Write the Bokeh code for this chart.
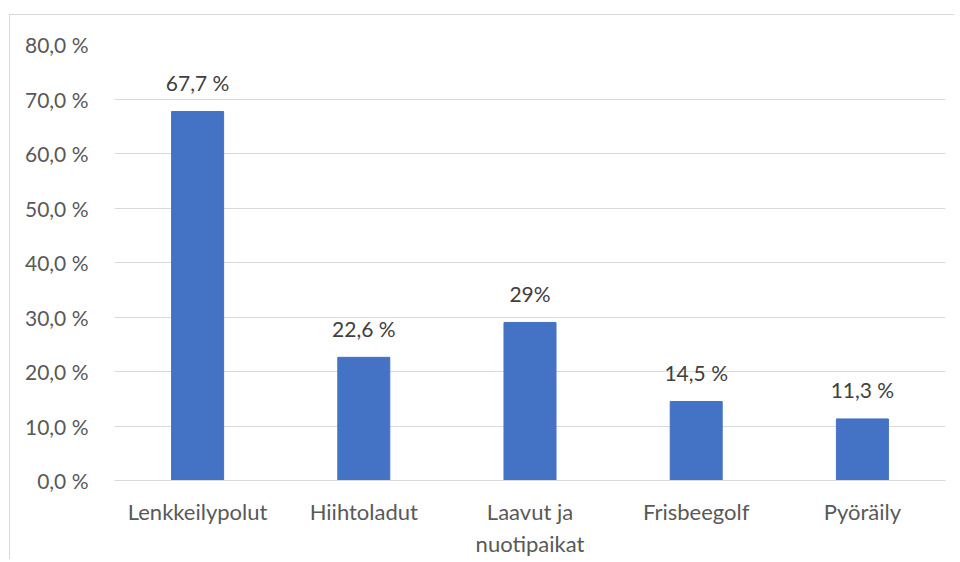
from bokeh.plotting import figure
from bokeh.models import ColumnDataSource, FixedTicker, Range1d, FactorRange
from bokeh.core.properties import value
from bokeh.embed import file_html
from bokeh.resources import INLINE

categories = ["Lenkkeilypolut", "Hiihtoladut", "Laavut ja\nnuotipaikat", "Frisbeegolf", "Pyöräily"]
values = [67.7, 22.6, 29.0, 14.5, 11.3]
value_labels = ["67,7 %", "22,6 %", "29%", "14,5 %", "11,3 %"]
y_ticks = [0, 10, 20, 30, 40, 50, 60, 70, 80]
y_tick_labels = ["0,0 %", "10,0 %", "20,0 %", "30,0 %", "40,0 %", "50,0 %", "60,0 %", "70,0 %", "80,0 %"]

FONT = "Lato"
src = ColumnDataSource(dict(cat=categories, val=values, lab=value_labels))

p = figure(x_range=FactorRange(*categories, range_padding=0), y_range=Range1d(0, 80),
           width=945, height=545, output_backend="svg", toolbar_location=None,
           min_border_left=104, min_border_right=10, min_border_top=29, min_border_bottom=80,
           margin=(14, 0, 0, 9),
           styles={"border-top": "1px solid #d9d9d9", "border-left": "1px solid #d9d9d9"})
p.outline_line_color = None
p.vbar(x="cat", top="val", width=0.313, source=src, color="#4472C4")
p.text(x="cat", y="val", text="lab", source=src, text_align="center", text_baseline="alphabetic",
       y_offset=-29, text_font=value(FONT), text_font_size="21px", text_color="#404040")

p.yaxis.ticker = FixedTicker(ticks=y_ticks)
p.yaxis.major_label_overrides = {t: l for t, l in zip(y_ticks, y_tick_labels)}
for ax in (p.xaxis, p.yaxis):
    ax.axis_line_color = None
    ax.major_tick_line_color = None
    ax.minor_tick_line_color = None
    ax.major_label_text_font = FONT
    ax.major_label_text_color = "#595959"
p.yaxis.major_label_text_font_size = "21px"
p.xaxis.major_label_text_font_size = "22px"
p.yaxis.major_label_standoff = 20
p.xaxis.major_label_standoff = 11
p.xaxis.axis_line_color = "#d9d9d9"
p.xgrid.grid_line_color = None
p.ygrid.grid_line_color = "#d9d9d9"
p.ygrid.grid_line_width = 1

open("out.html", "w").write(file_html(p, INLINE))
